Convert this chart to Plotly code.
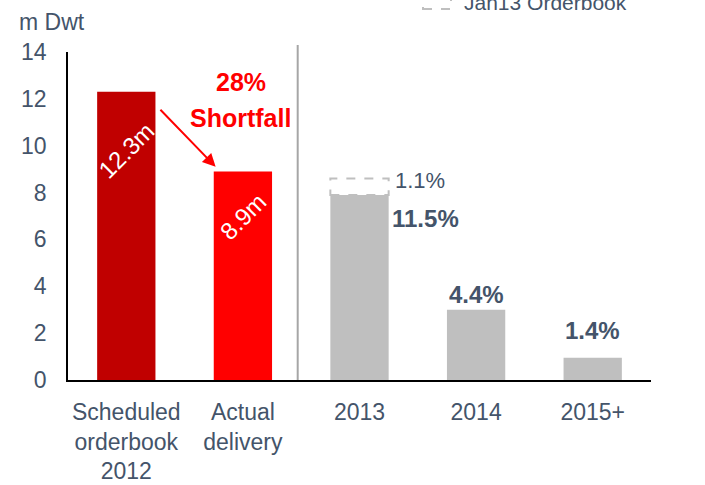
import plotly.graph_objects as go

# ---- data ----
categories = ["Scheduled<br>orderbook<br>2012", "Actual<br>delivery", "2013", "2014", "2015+"]
values = [12.3, 8.9, 7.9, 3.0, 0.95]
bar_colors = ["#c00000", "#ff0000", "#bfbfbf", "#bfbfbf", "#bfbfbf"]
jan13_extra = [0, 0, 0.7, 0, 0]
inbar_labels = ["12.3m", "8.9m"]
pct_labels = ["11.5%", "4.4%", "1.4%"]
jan13_label = "1.1%"
tick_vals = [0, 2, 4, 6, 8, 10, 12, 14]

FONT = "Arial, Liberation Sans, sans-serif"
TXT = "#44546a"
BAR_W = 0.5

fig = go.Figure()
fig.add_trace(go.Bar(
    x=list(range(len(categories))), y=values, width=BAR_W,
    marker=dict(color=bar_colors, line=dict(width=0)),
    showlegend=False, hoverinfo="skip",
))

shapes = []
# dashed Jan13 orderbook boxes on top of bars
for i, (v, e) in enumerate(zip(values, jan13_extra)):
    if e > 0:
        shapes.append(dict(type="rect", xref="x", yref="y",
                           x0=i - BAR_W / 2, x1=i + BAR_W / 2, y0=v, y1=v + e,
                           line=dict(color="#bfbfbf", width=2, dash="dash"),
                           fillcolor="rgba(0,0,0,0)"))
# divider line between 2012 and forecasts
shapes.append(dict(type="line", xref="x", yref="paper", x0=1.47, x1=1.47, y0=0, y1=1.021,
                   line=dict(color="#a6a6a6", width=2)))
# legend box
shapes.append(dict(type="rect", xref="paper", yref="paper",
                   x0=(423 - 68) / 583, x1=(451 - 68) / 583,
                   y0=(380 - 9) / 328, y1=(380 + 9) / 328,
                   line=dict(color="#bfbfbf", width=2, dash="dash"),
                   fillcolor="rgba(0,0,0,0)"))

annotations = []
# in-bar rotated labels
annotations.append(dict(x=0, y=9.8, xref="x", yref="y", text=inbar_labels[0], showarrow=False,
                        textangle=-45, font=dict(family=FONT, size=24, color="white")))
annotations.append(dict(x=1, y=7.0, xref="x", yref="y", text=inbar_labels[1], showarrow=False,
                        textangle=-45, font=dict(family=FONT, size=24, color="white")))
# shortfall text
annotations.append(dict(x=0.98, y=12.7, xref="x", yref="y", text="<b>28%</b>", showarrow=False,
                        font=dict(family=FONT, size=25, color="#ff0000")))
annotations.append(dict(x=0.98, y=11.2, xref="x", yref="y", text="<b>Shortfall</b>", showarrow=False,
                        font=dict(family=FONT, size=25, color="#ff0000")))
# arrow
annotations.append(dict(x=0.766, y=9.1, ax=0.28, ay=11.6, xref="x", yref="y", axref="x", ayref="y",
                        text="", showarrow=True, arrowhead=2, arrowsize=1.3, arrowwidth=2,
                        arrowcolor="#ff0000"))
# percentage labels
annotations.append(dict(x=2.57, y=6.9, xref="x", yref="y", text="<b>%s</b>" % pct_labels[0],
                        showarrow=False, font=dict(family=FONT, size=24, color=TXT)))
annotations.append(dict(x=3, y=3.63, xref="x", yref="y", text="<b>%s</b>" % pct_labels[1],
                        showarrow=False, font=dict(family=FONT, size=24, color=TXT)))
annotations.append(dict(x=4, y=2.13, xref="x", yref="y", text="<b>%s</b>" % pct_labels[2],
                        showarrow=False, font=dict(family=FONT, size=24, color=TXT)))
annotations.append(dict(x=2.29, y=8.5, xref="x", yref="y", text=jan13_label, xanchor="left",
                        showarrow=False, font=dict(family=FONT, size=22, color=TXT)))
# unit label
annotations.append(dict(x=(17 - 68) / 583, y=(380 - 22) / 328, xref="paper", yref="paper",
                        text="m Dwt", xanchor="left", yanchor="middle", showarrow=False,
                        font=dict(family=FONT, size=23, color=TXT)))
# legend text
annotations.append(dict(x=(462 - 68) / 583, y=(380 - 2) / 328, xref="paper", yref="paper",
                        text="Jan13 Orderbook", xanchor="left", yanchor="middle", showarrow=False,
                        font=dict(family=FONT, size=21, color=TXT)))

fig.update_layout(
    width=705, height=485,
    margin=dict(l=68, r=54, t=52, b=105),
    plot_bgcolor="white", paper_bgcolor="white",
    shapes=shapes, annotations=annotations,
    bargap=0.5,
    xaxis=dict(range=[-0.5, 4.5], tickmode="array", tickvals=list(range(len(categories))),
               ticktext=categories, showgrid=False, zeroline=False, automargin=False,
               showline=True, linecolor="black", linewidth=2, ticks="",
               ticklabelstandoff=10,
               tickfont=dict(family=FONT, size=23, color=TXT)),
    yaxis=dict(range=[0, 14], tickmode="array", tickvals=tick_vals, showgrid=False,
               zeroline=False, showline=True, linecolor="black", linewidth=1.5, ticks="",
               ticklabelstandoff=15, automargin=False,
               tickfont=dict(family=FONT, size=23, color=TXT)),
)

fig.write_html("out.html", config={"displayModeBar": False},
               post_script="document.body.style.margin='0';document.body.style.overflow='hidden';")
